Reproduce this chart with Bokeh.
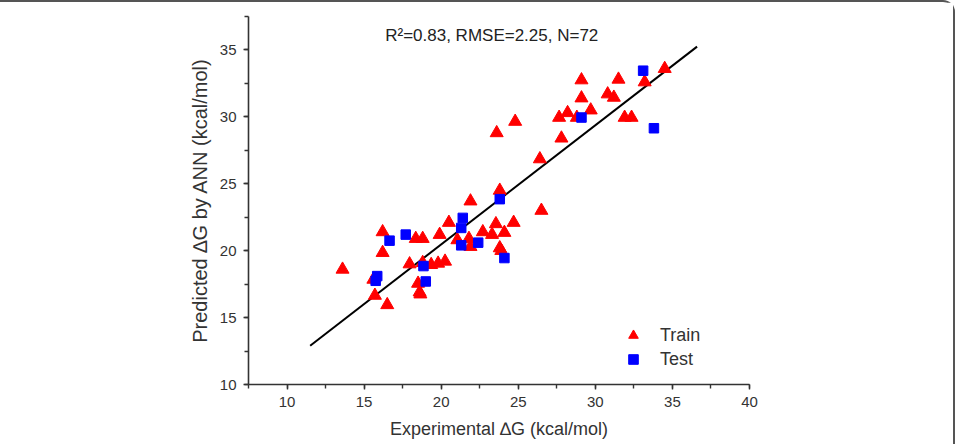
from bokeh.plotting import figure
from bokeh.models import SingleIntervalTicker, Legend, LegendItem, Label, Range1d
from bokeh.embed import file_html
from bokeh.resources import INLINE

# ---- data ----
train_x = [21.9, 20.5, 23.55, 16.2, 18.35, 18.8, 19.9, 22.7, 23.3, 21.05,
           21.8, 21.9, 23.8, 23.9, 16.2, 13.6, 17.95, 19.35, 19.8, 20.25,
           15.6, 18.5, 18.6, 18.65, 15.7, 16.5, 23.8, 26.5, 24.7, 24.1,
           34.5, 33.2, 29.1, 31.5, 30.8, 31.2, 29.1, 28.2, 27.65, 29.7,
           28.8, 31.9, 32.35, 24.8, 23.6, 27.8, 26.4, 18.8]
train_y = [23.7, 22.1, 22.0, 21.4, 20.9, 20.9, 21.2, 21.4, 21.2, 20.8,
           20.9, 20.3, 20.2, 20.0, 19.85, 18.6, 19.0, 18.95, 19.05, 19.2,
           17.85, 17.55, 16.9, 16.75, 16.65, 15.95, 24.5, 23.0, 22.1, 21.35,
           33.6, 32.6, 32.75, 32.8, 31.7, 31.45, 31.4, 30.3, 29.95, 30.5,
           29.95, 29.95, 29.95, 29.65, 28.8, 28.4, 26.85, 19.1]

test_x = [21.4, 21.3, 17.7, 16.65, 21.3, 22.4, 18.85, 15.85, 15.75, 19.0,
          23.8, 24.1, 33.1, 29.1, 33.8]
test_y = [22.45, 21.7, 21.2, 20.75, 20.4, 20.6, 18.85, 18.1, 17.75, 17.7,
          23.85, 19.45, 33.45, 29.95, 29.15]

fit_x = [11.5, 36.6]
fit_y = [12.9, 35.25]

stats_text = "R\u00b2=0.83, RMSE=2.25, N=72"
x_label = "Experimental \u2206G (kcal/mol)"
y_label = "Predicted \u2206G by ANN (kcal/mol)"

FONT = "Liberation Sans"
TXT = "#333333"

p = figure(width=955, height=444, output_backend="svg", toolbar_location=None,
           x_range=Range1d(7.5, 40), y_range=Range1d(10, 37.5),
           min_border_left=248, min_border_right=206,
           min_border_top=14, min_border_bottom=62)
p.styles = {"border-top": "2px solid #555555", "border-right": "2px solid #555555",
            "border-top-right-radius": "12px"}
p.outline_line_color = None
p.grid.visible = False
p.background_fill_color = "white"
p.border_fill_color = "white"

for ax in (p.xaxis[0], p.yaxis[0]):
    ax.ticker = SingleIntervalTicker(interval=5, num_minor_ticks=2)
    ax.axis_line_color = TXT
    ax.axis_line_width = 1.6
    ax.major_tick_line_color = TXT
    ax.minor_tick_line_color = TXT
    ax.major_tick_line_width = 1.4
    ax.minor_tick_line_width = 1.4
    ax.major_tick_out = 5
    ax.major_tick_in = 0
    ax.minor_tick_out = 4
    ax.minor_tick_in = 0
    ax.major_label_text_font = FONT
    ax.major_label_text_font_size = "15px"
    ax.major_label_text_color = TXT
    ax.axis_label_text_font = FONT
    ax.axis_label_text_font_style = "normal"
    ax.axis_label_text_color = TXT

p.xaxis.axis_label = x_label
p.xaxis.axis_label_text_font_size = "18px"
p.xaxis.major_label_standoff = 7
p.xaxis.axis_label_standoff = 9
p.yaxis.axis_label = y_label
p.yaxis.axis_label_text_font_size = "20px"
p.yaxis.major_label_standoff = 7
p.yaxis.axis_label_standoff = 6

p.line(fit_x, fit_y, line_color="black", line_width=2)
r_train = p.scatter(train_x, train_y, marker="triangle", size=13,
                    fill_color="#FF0000", line_color="#FF0000")
r_test = p.scatter(test_x, test_y, marker="square", size=9.5,
                   fill_color="#0000FF", line_color="#0000FF")

legend = Legend(items=[LegendItem(label="Train", renderers=[r_train]),
                       LegendItem(label="Test", renderers=[r_test])],
                location=(373, 13), border_line_color=None,
                background_fill_alpha=0, padding=0, margin=0, spacing=0,
                glyph_width=24, glyph_height=24, label_standoff=15,
                label_text_font=FONT, label_text_font_size="18px",
                label_text_color=TXT, label_height=20)
p.add_layout(legend, "center")

p.add_layout(Label(x=23.28, y=36.07, text=stats_text, text_align="center",
                   text_baseline="alphabetic", text_font=FONT,
                   text_font_size="17px", text_color="#222222"))

open("out.html", "w").write(file_html(p, INLINE))
